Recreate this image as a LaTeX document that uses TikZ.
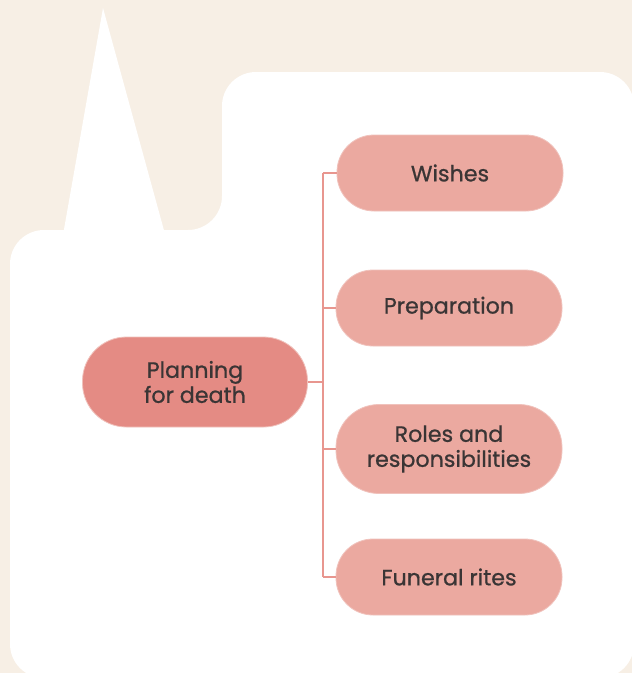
\documentclass[tikz,border=0pt]{standalone}
\usepackage{fontspec}
\setmainfont{Poppins}
\newfontfamily\popmed{Poppins}[FakeBold=0.8]
\definecolor{cream}{HTML}{F7EFE5}
\definecolor{rootfill}{HTML}{E48B84}
\definecolor{childfill}{HTML}{EBA9A0}
\definecolor{nodeedge}{HTML}{F0C2BC}
\definecolor{linkcol}{HTML}{E8968F}
\definecolor{txt}{HTML}{3A3535}
\tikzset{
  pill/.style={rectangle, rounded corners=#1, draw=nodeedge, line width=0.8pt,
    minimum width=226pt, align=center, text=txt, inner sep=0pt,
    font=\popmed\fontsize{22.2}{25}\selectfont},
  rootbox/.style={pill=44pt, fill=rootfill, minimum height=90pt, minimum width=225pt},
  childbox/.style={pill=37pt, fill=childfill, minimum height=76pt},
  childbig/.style={pill=43pt, fill=childfill, minimum height=89pt},
  link/.style={draw=linkcol, line width=2pt}
}
\begin{document}
\begin{tikzpicture}[x=1pt,y=-1pt]
\useasboundingbox (0,0) rectangle (632,673);
\fill[cream] (0,0) rectangle (632,673);
\fill[white, rounded corners=34pt] (10,678) -- (10,230) -- (222,230) -- (222,72) -- (634,72) -- (634,678) -- cycle;
\fill[white] (103,8) -- (60,252) -- (165,234) -- cycle;

\coordinate (trunk) at (323,382);
\coordinate (top) at (323,173);
\coordinate (bot) at (323,577);
\draw[link] (top) -- (bot);

\node[rootbox] (root) at (195,382) {Planning\\for death};
\node[childbox] (wishes) at (450,173) {Wishes};
\node[childbox] (prep) at (449,308) {Preparation};
\node[childbig] (roles) at (449,449) {Roles and\\responsibilities};
\node[childbox] (funeral) at (449,577) {Funeral rites};

\draw[link] (root.east) -- (trunk);
\draw[link] (wishes.west) -- (wishes.west -| trunk);
\draw[link] (prep.west) -- (prep.west -| trunk);
\draw[link] (roles.west) -- (roles.west -| trunk);
\draw[link] (funeral.west) -- (funeral.west -| trunk);
\end{tikzpicture}
\end{document}
